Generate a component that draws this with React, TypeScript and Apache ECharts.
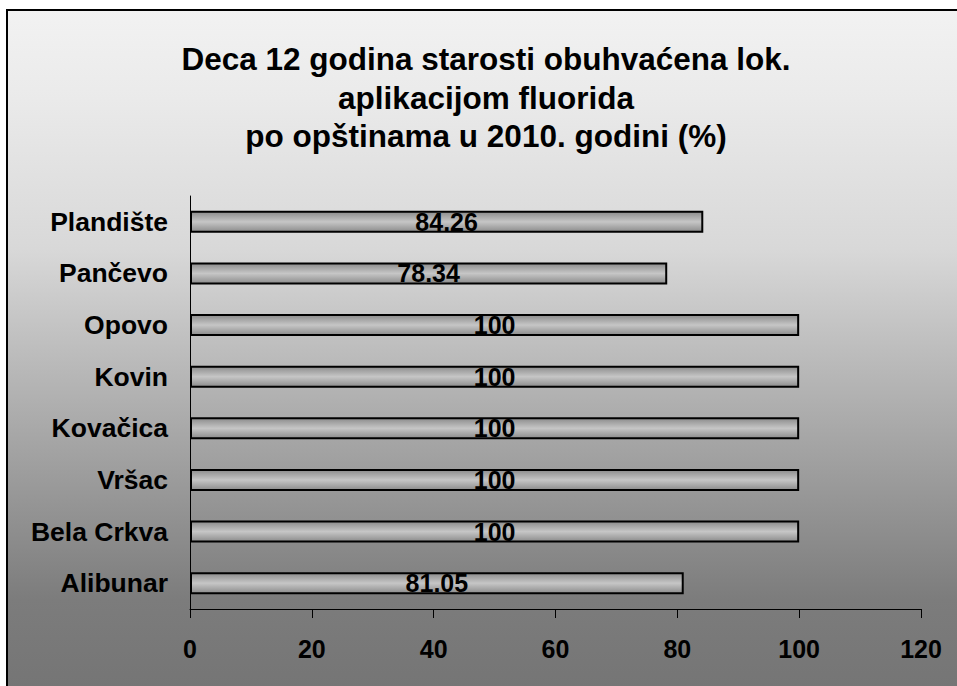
import React, { useEffect, useRef } from "react";
import * as echarts from "echarts";

const titleLines = [
  "Deca 12 godina starosti obuhvaćena lok.",
  "aplikacijom fluorida",
  "po opštinama u 2010. godini (%)",
];
const categories = ["Alibunar", "Bela Crkva", "Vršac", "Kovačica", "Kovin", "Opovo", "Pančevo", "Plandište"];
const values = [81.05, 100, 100, 100, 100, 100, 78.34, 84.26];
const xMin = 0;
const xMax = 120;
const xStep = 20;

export default function App() {
  const ref = useRef<HTMLDivElement>(null);
  useEffect(() => {
    if (!ref.current) return;
    const chart = echarts.init(ref.current, null, { renderer: "svg" });
    const H = 690;
    const off = (y: number) => (y - 10) / H;
    chart.setOption({
      animation: false,
      graphic: [
        {
          type: "rect",
          z: -10,
          shape: { x: 7, y: 10, width: 960, height: H },
          style: {
            fill: new echarts.graphic.LinearGradient(0, 0, 0, 1, [
              { offset: 0, color: "#f2f2f2" },
              { offset: off(100), color: "#eaeaea" },
              { offset: off(250), color: "#d8d8d8" },
              { offset: off(350), color: "#bdbdbd" },
              { offset: off(450), color: "#a3a3a3" },
              { offset: off(600), color: "#7c7c7c" },
              { offset: 1, color: "#747474" },
            ]),
            stroke: "#000",
            lineWidth: 2,
          },
        },
      ],
      title: {
        text: titleLines.join("\n"),
        left: 481,
        top: 35,
        textAlign: "center",
        textStyle: {
          fontFamily: "Liberation Sans, Arial, sans-serif",
          fontWeight: "bold",
          fontSize: 31.5,
          lineHeight: 38.5,
          color: "#000",
        },
      },
      grid: { left: 190, right: 36, top: 196, bottom: 77, containLabel: false },
      xAxis: {
        type: "value",
        min: xMin,
        max: xMax,
        interval: xStep,
        axisLine: { show: true, lineStyle: { color: "#000", width: 1 } },
        axisTick: { show: true, length: 9, lineStyle: { color: "#000" } },
        splitLine: { show: false },
        axisLabel: {
          margin: 27,
          color: "#000",
          fontFamily: "Liberation Sans, Arial, sans-serif",
          fontWeight: "bold",
          fontSize: 25,
        },
      },
      yAxis: {
        type: "category",
        data: categories,
        axisLine: { show: true, lineStyle: { color: "#000", width: 1 } },
        axisTick: { show: false },
        axisLabel: {
          margin: 22,
          color: "#000",
          fontFamily: "Liberation Sans, Arial, sans-serif",
          fontWeight: "bold",
          fontSize: 26.5,
        },
      },
      series: [
        {
          type: "bar",
          data: values,
          barWidth: 22,
          itemStyle: {
            color: new echarts.graphic.LinearGradient(0, 0, 0, 1, [
              { offset: 0, color: "#8c8c8c" },
              { offset: 0.5, color: "#c6c6c6" },
              { offset: 1, color: "#8c8c8c" },
            ]),
            borderColor: "#000",
            borderWidth: 2,
          },
          label: {
            show: true,
            position: "inside",
            color: "#000",
            fontFamily: "Liberation Sans, Arial, sans-serif",
            fontWeight: "bold",
            fontSize: 25,
            formatter: (p: any) => String(p.value),
          },
        },
      ],
    });
    return () => chart.dispose();
  }, []);
  return (
    <div
      ref={ref}
      style={{ position: "absolute", left: 0, top: 0, width: 957, height: 686 }}
    />
  );
}
